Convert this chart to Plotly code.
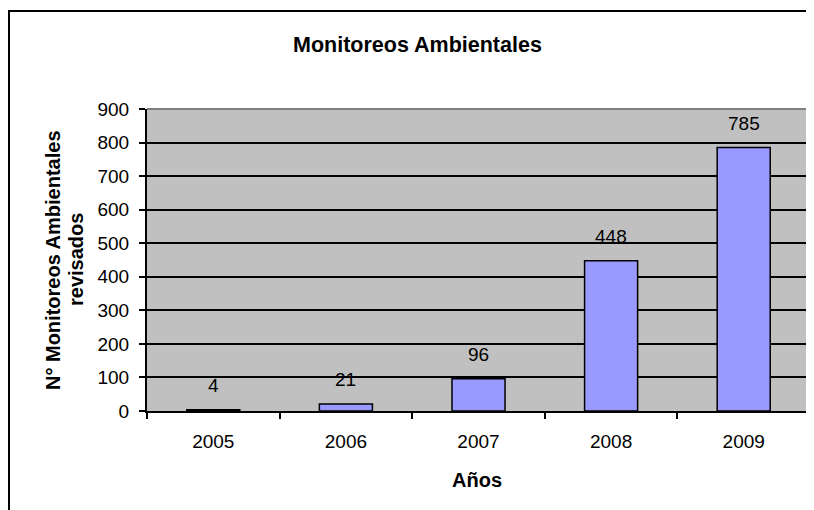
import plotly.graph_objects as go

years = ["2005", "2006", "2007", "2008", "2009"]
monitoreos = [4, 21, 96, 448, 785]
y_ticks = [0, 100, 200, 300, 400, 500, 600, 700, 800, 900]

FONT = "Liberation Sans, Arial, sans-serif"

# plot area on screen: left 147, right 810, top 109, bottom 411
# (page body adds an 8px offset, margins below compensate for it)
PW, PH = 663, 302

fig = go.Figure()
fig.add_trace(go.Bar(
    x=years, y=monitoreos,
    marker=dict(color="#9999FF", line=dict(color="black", width=1.5)),
    width=0.4,
    showlegend=False,
))

# value labels above bars (category axis -> annotation x is the category index)
for i, val in enumerate(monitoreos):
    fig.add_annotation(x=i, y=val, text=str(val), showarrow=False,
                       xanchor="center", yanchor="middle", yshift=24,
                       font=dict(family=FONT, size=19, color="black"))

# titles
fig.add_annotation(xref="paper", yref="paper", x=(417 - 147) / PW, y=1 + (109 - 45) / PH,
                   text="<b>Monitoreos Ambientales</b>", showarrow=False,
                   xanchor="center", yanchor="middle",
                   font=dict(family=FONT, size=21.5, color="black"))
fig.add_annotation(xref="paper", yref="paper", x=(477 - 147) / PW, y=-(480 - 411) / PH,
                   text="<b>Años</b>", showarrow=False,
                   xanchor="center", yanchor="middle",
                   font=dict(family=FONT, size=20, color="black"))
fig.add_annotation(xref="paper", yref="paper", x=-(147 - 53) / PW, y=0.5,
                   text="<b>N° Monitoreos Ambientales</b>", showarrow=False,
                   textangle=-90, xanchor="center", yanchor="middle",
                   font=dict(family=FONT, size=20, color="black"))
fig.add_annotation(xref="paper", yref="paper", x=-(147 - 76) / PW, y=0.5,
                   text="<b>revisados</b>", showarrow=False,
                   textangle=-90, xanchor="center", yanchor="middle",
                   font=dict(family=FONT, size=20, color="black"))

# outer chart frame (only left and top edges visible)
fig.add_shape(type="rect", xref="paper", yref="paper",
              x0=-(147 - 9) / PW, x1=1.1, y0=-0.5, y1=1 + (109 - 11) / PH,
              line=dict(color="black", width=2), layer="below")

fig.update_layout(
    template="none",
    width=814, height=510,
    margin=dict(l=139, r=12, t=101, b=107),
    paper_bgcolor="white",
    plot_bgcolor="#C0C0C0",
    font=dict(family=FONT, size=19, color="black"),
    xaxis=dict(
        type="category",
        automargin=False,
        range=[-0.5, 4.5],
        showline=True, linecolor="black", linewidth=2,
        ticks="outside", ticklen=6, tickwidth=2, tickcolor="black",
        tickson="boundaries",
        ticklabelstandoff=12,
        tickfont=dict(family=FONT, size=19),
        showgrid=False, zeroline=False,
    ),
    yaxis=dict(
        automargin=False,
        range=[0, 900], tickvals=y_ticks,
        showline=True, linecolor="black", linewidth=2,
        ticks="outside", ticklen=6, tickwidth=2, tickcolor="black",
        ticklabelstandoff=6,
        tickfont=dict(family=FONT, size=19),
        showgrid=True, gridcolor="black", gridwidth=1.5,
        zeroline=False,
    ),
)

# gray top/right border of plot area
fig.add_shape(type="line", xref="paper", yref="paper", x0=0, x1=1, y0=1, y1=1,
              line=dict(color="#808080", width=2))
fig.add_shape(type="line", xref="paper", yref="paper", x0=1, x1=1, y0=0, y1=1,
              line=dict(color="#808080", width=2))

fig.write_html("out.html")
